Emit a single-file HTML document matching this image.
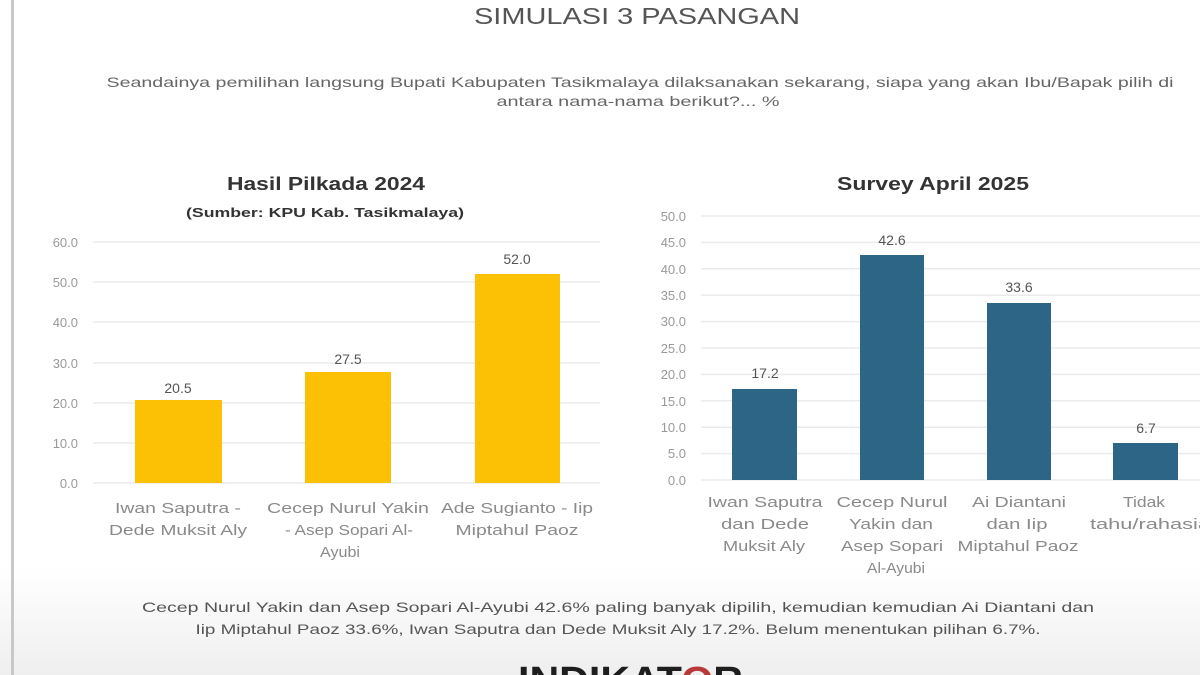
<!DOCTYPE html>
<html><head><meta charset="utf-8"><style>
html,body{margin:0;padding:0;background:#fff;}
svg{display:block;}
text{font-family:"Liberation Sans",sans-serif;}
</style></head><body>
<svg width="1200" height="675" viewBox="0 0 1200 675" xmlns="http://www.w3.org/2000/svg">
<defs>
<linearGradient id="bg" x1="0" y1="0" x2="0" y2="1">
<stop offset="0" stop-color="#ffffff"/>
<stop offset="0.84" stop-color="#ffffff"/>
<stop offset="1" stop-color="#efefef"/>
</linearGradient>
</defs>
<rect width="1200" height="675" fill="url(#bg)"/>
<rect x="11" y="0" width="3" height="675" fill="#c8c8c8"/>

<!-- Header -->
<text x="637" y="24" font-size="23" fill="#555" text-anchor="middle" textLength="326" lengthAdjust="spacingAndGlyphs">SIMULASI 3 PASANGAN</text>
<text x="640" y="87" font-size="14" fill="#666" text-anchor="middle" textLength="1067" lengthAdjust="spacingAndGlyphs">Seandainya pemilihan langsung Bupati Kabupaten Tasikmalaya dilaksanakan sekarang, siapa yang akan Ibu/Bapak pilih di</text>
<text x="638" y="106" font-size="14" fill="#666" text-anchor="middle" textLength="283" lengthAdjust="spacingAndGlyphs">antara nama-nama berikut?... %</text>

<!-- Left chart -->
<text x="326" y="190" font-size="18" font-weight="bold" fill="#333" text-anchor="middle" textLength="198" lengthAdjust="spacingAndGlyphs">Hasil Pilkada 2024</text>
<text x="325" y="217" font-size="13" font-weight="bold" fill="#333" text-anchor="middle" textLength="278" lengthAdjust="spacingAndGlyphs">(Sumber: KPU Kab. Tasikmalaya)</text>
<g stroke="#ebebeb" stroke-width="1.5">
<line x1="93" y1="242" x2="600" y2="242"/>
<line x1="93" y1="282" x2="600" y2="282"/>
<line x1="93" y1="322" x2="600" y2="322"/>
<line x1="93" y1="363" x2="600" y2="363"/>
<line x1="93" y1="403" x2="600" y2="403"/>
<line x1="93" y1="443" x2="600" y2="443"/>
<line x1="93" y1="483" x2="600" y2="483"/>
</g>
<g font-size="13" fill="#999" text-anchor="end">
<text x="78" y="247">60.0</text>
<text x="78" y="287">50.0</text>
<text x="78" y="327">40.0</text>
<text x="78" y="368">30.0</text>
<text x="78" y="408">20.0</text>
<text x="78" y="448">10.0</text>
<text x="78" y="488">0.0</text>
</g>
<g fill="#FCC005">
<rect x="135" y="400" width="87" height="83"/>
<rect x="305" y="372" width="86" height="111"/>
<rect x="475" y="274" width="85" height="209"/>
</g>
<g font-size="14" fill="#555" text-anchor="middle">
<text x="178" y="393">20.5</text>
<text x="348" y="364">27.5</text>
<text x="517" y="264">52.0</text>
</g>
<g font-size="15" fill="#8a8a8a" text-anchor="middle">
<text x="178" y="513" textLength="126" lengthAdjust="spacingAndGlyphs">Iwan Saputra -</text>
<text x="178" y="535" textLength="138" lengthAdjust="spacingAndGlyphs">Dede Muksit Aly</text>
<text x="348" y="513" textLength="162" lengthAdjust="spacingAndGlyphs">Cecep Nurul Yakin</text>
<text x="349" y="535" textLength="128" lengthAdjust="spacingAndGlyphs">- Asep Sopari Al-</text>
<text x="340" y="557" textLength="40" lengthAdjust="spacingAndGlyphs">Ayubi</text>
<text x="517" y="513" textLength="152" lengthAdjust="spacingAndGlyphs">Ade Sugianto - Iip</text>
<text x="517" y="535" textLength="123" lengthAdjust="spacingAndGlyphs">Miptahul Paoz</text>
</g>

<!-- Right chart -->
<text x="933" y="190" font-size="18" font-weight="bold" fill="#333" text-anchor="middle" textLength="192" lengthAdjust="spacingAndGlyphs">Survey April 2025</text>
<g stroke="#ebebeb" stroke-width="1.5">
<line x1="701" y1="216" x2="1200" y2="216"/>
<line x1="701" y1="242.4" x2="1200" y2="242.4"/>
<line x1="701" y1="268.8" x2="1200" y2="268.8"/>
<line x1="701" y1="295.2" x2="1200" y2="295.2"/>
<line x1="701" y1="321.6" x2="1200" y2="321.6"/>
<line x1="701" y1="348" x2="1200" y2="348"/>
<line x1="701" y1="374.4" x2="1200" y2="374.4"/>
<line x1="701" y1="400.8" x2="1200" y2="400.8"/>
<line x1="701" y1="427.2" x2="1200" y2="427.2"/>
<line x1="701" y1="453.6" x2="1200" y2="453.6"/>
<line x1="701" y1="480" x2="1200" y2="480"/>
</g>
<g font-size="13" fill="#999" text-anchor="end">
<text x="686" y="221">50.0</text>
<text x="686" y="247">45.0</text>
<text x="686" y="274">40.0</text>
<text x="686" y="300">35.0</text>
<text x="686" y="326">30.0</text>
<text x="686" y="353">25.0</text>
<text x="686" y="379">20.0</text>
<text x="686" y="406">15.0</text>
<text x="686" y="432">10.0</text>
<text x="686" y="458">5.0</text>
<text x="686" y="485">0.0</text>
</g>
<g fill="#2D6587">
<rect x="732" y="389" width="65" height="91"/>
<rect x="860" y="255" width="64" height="225"/>
<rect x="987" y="303" width="64" height="177"/>
<rect x="1113" y="443" width="65" height="37"/>
</g>
<g font-size="14" fill="#555" text-anchor="middle">
<text x="765" y="378">17.2</text>
<text x="892" y="245">42.6</text>
<text x="1019" y="292">33.6</text>
<text x="1146" y="433">6.7</text>
</g>
<g font-size="15" fill="#8a8a8a" text-anchor="middle">
<text x="765" y="507" textLength="115" lengthAdjust="spacingAndGlyphs">Iwan Saputra</text>
<text x="765" y="529" textLength="88" lengthAdjust="spacingAndGlyphs">dan Dede</text>
<text x="764" y="551" textLength="82" lengthAdjust="spacingAndGlyphs">Muksit Aly</text>
<text x="892" y="507" textLength="111" lengthAdjust="spacingAndGlyphs">Cecep Nurul</text>
<text x="891" y="529" textLength="84" lengthAdjust="spacingAndGlyphs">Yakin dan</text>
<text x="892" y="551" textLength="102" lengthAdjust="spacingAndGlyphs">Asep Sopari</text>
<text x="896" y="573" textLength="58" lengthAdjust="spacingAndGlyphs">Al-Ayubi</text>
<text x="1019" y="507" textLength="94" lengthAdjust="spacingAndGlyphs">Ai Diantani</text>
<text x="1017" y="529" textLength="61" lengthAdjust="spacingAndGlyphs">dan Iip</text>
<text x="1018" y="551" textLength="121" lengthAdjust="spacingAndGlyphs">Miptahul Paoz</text>
<text x="1144" y="507" textLength="42" lengthAdjust="spacingAndGlyphs">Tidak</text>
<text x="1090" y="529" text-anchor="start" textLength="120" lengthAdjust="spacingAndGlyphs">tahu/rahasia</text>
</g>

<!-- Footer -->
<g font-size="14" fill="#555" text-anchor="middle">
<text x="618" y="612" textLength="952" lengthAdjust="spacingAndGlyphs">Cecep Nurul Yakin dan Asep Sopari Al-Ayubi 42.6% paling banyak dipilih, kemudian kemudian Ai Diantani dan</text>
<text x="618" y="634" textLength="845" lengthAdjust="spacingAndGlyphs">Iip Miptahul Paoz 33.6%, Iwan Saputra dan Dede Muksit Aly 17.2%. Belum menentukan pilihan 6.7%.</text>
</g>
<text x="518" y="693" font-size="38" font-weight="bold" fill="#1e1e1e" textLength="225" lengthAdjust="spacingAndGlyphs">INDIKAT<tspan fill="#b8393a">O</tspan>R</text>
</svg>
</body></html>
